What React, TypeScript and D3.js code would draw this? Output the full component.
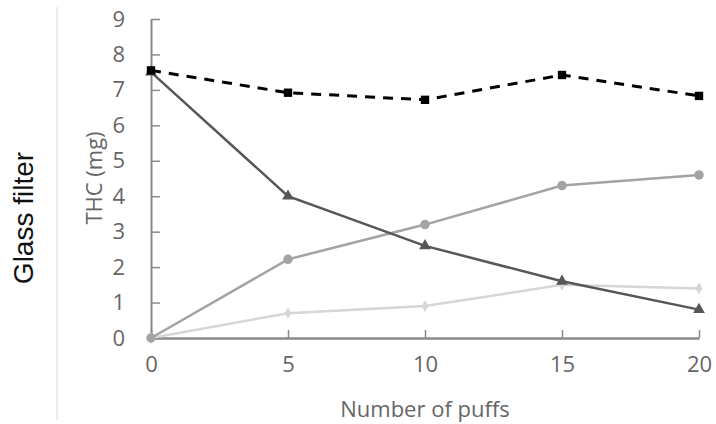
import { useEffect, useRef } from "react";
import * as d3 from "d3";

const puffs = [0, 5, 10, 15, 20];
const totalThc = [7.55, 6.92, 6.72, 7.42, 6.83];
const remaining = [7.5, 4.0, 2.6, 1.6, 0.8];
const filterThc = [0, 2.22, 3.2, 4.3, 4.6];
const smokeThc = [0, 0.7, 0.9, 1.5, 1.4];
const yTicks = [0, 1, 2, 3, 4, 5, 6, 7, 8, 9];

export default function App() {
  const svgRef = useRef<SVGSVGElement>(null);

  useEffect(() => {
    const svg = d3.select(svgRef.current);
    svg.selectAll("*").remove();
    const width = 716;
    const height = 424;
    const margin = { top: 19, right: 17, bottom: 86, left: 151 };

    const xScale = d3
      .scaleLinear()
      .domain([0, 20])
      .range([margin.left, width - margin.right]);
    const yScale = d3
      .scaleLinear()
      .domain([0, 9])
      .range([height - margin.bottom, margin.top]);

    const axisColor = "#8a8a8a";
    const labelColor = "#666";
    const font = "'Open Sans', sans-serif";

    // separator line on the left
    svg
      .append("line")
      .attr("x1", 57)
      .attr("x2", 57)
      .attr("y1", 7)
      .attr("y2", 420)
      .attr("stroke", "#e6e6e6")
      .attr("stroke-width", 1.5);

    svg
      .append("text")
      .attr("transform", "translate(33, 218) rotate(-90)")
      .attr("text-anchor", "middle")
      .attr("font-family", "'Liberation Sans', Arial, sans-serif")
      .style("font-size", "28px")
      .attr("fill", "#111")
      .text("Glass filter");

    // y axis
    const yAxis = d3
      .axisLeft(yScale)
      .tickValues(yTicks)
      .tickSize(-9)
      .tickSizeOuter(0)
      .tickPadding(26);
    const gy = svg
      .append("g")
      .attr("transform", `translate(${margin.left}, 0)`)
      .call(yAxis);
    gy.select(".domain").attr("stroke", axisColor).attr("stroke-width", 2);
    gy.selectAll(".tick line").attr("stroke", axisColor).attr("stroke-width", 1.5);
    gy.selectAll(".tick text")
      .attr("fill", labelColor)
      .attr("font-family", font)
      .style("font-size", "22px");

    // x axis
    const xAxis = d3
      .axisBottom(xScale)
      .tickValues(puffs)
      .tickSize(-8)
      .tickSizeOuter(0)
      .tickPadding(18);
    const gx = svg
      .append("g")
      .attr("transform", `translate(0, ${height - margin.bottom})`)
      .call(xAxis);
    gx.select(".domain").attr("stroke", axisColor).attr("stroke-width", 2.5);
    gx.selectAll(".tick line").attr("stroke", axisColor).attr("stroke-width", 1.5);
    gx.selectAll(".tick text")
      .attr("fill", labelColor)
      .attr("font-family", font)
      .style("font-size", "22px");

    svg
      .append("text")
      .attr("transform", "translate(102, 178) rotate(-90)")
      .attr("text-anchor", "middle")
      .attr("font-family", font)
      .style("font-size", "22px")
      .attr("fill", labelColor)
      .text("THC (mg)");

    svg
      .append("text")
      .attr("x", (xScale(0) + xScale(20)) / 2)
      .attr("y", 417)
      .attr("text-anchor", "middle")
      .attr("font-family", font)
      .style("font-size", "22px")
      .attr("fill", labelColor)
      .text("Number of puffs");

    const line = d3
      .line<number>()
      .x((_, i) => xScale(puffs[i]))
      .y((d) => yScale(d));

    const series = [
      { values: smokeThc, color: "#d6d6d6", dash: null, symbol: d3.symbolDiamond, size: 40 },
      { values: filterThc, color: "#a3a3a3", dash: null, symbol: d3.symbolCircle, size: 70 },
      { values: remaining, color: "#575757", dash: null, symbol: d3.symbolTriangle, size: 60 },
      { values: totalThc, color: "#000", dash: "10,8", symbol: d3.symbolSquare, size: 70 },
    ];

    series.forEach((s) => {
      svg
        .append("path")
        .datum(s.values)
        .attr("d", line)
        .attr("fill", "none")
        .attr("stroke", s.color)
        .attr("stroke-width", s.dash ? 3 : 2.5)
        .attr("stroke-dasharray", s.dash);

      svg
        .selectAll(null)
        .data(s.values)
        .enter()
        .append("path")
        .attr("d", d3.symbol().type(s.symbol).size(s.size))
        .attr("transform", (d, i) => `translate(${xScale(puffs[i])}, ${yScale(d)})`)
        .attr("fill", s.color);
    });
  }, []);

  return (
    <svg
      ref={svgRef}
      width={716}
      height={424}
      style={{ position: "absolute", left: 0, top: 0, background: "#fff" }}
    ></svg>
  );
}
